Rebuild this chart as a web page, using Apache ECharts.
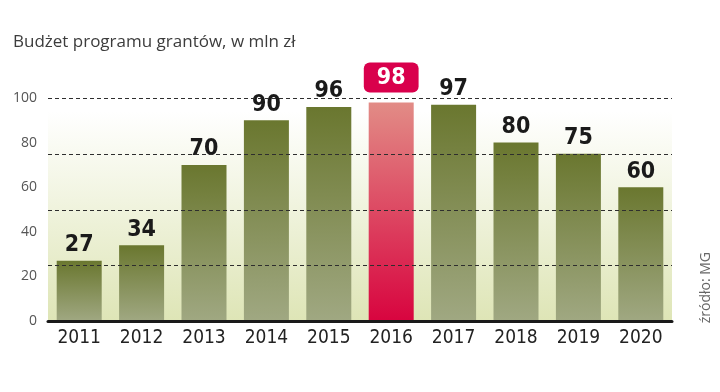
<!DOCTYPE html>
<html><head><meta charset="utf-8">
<script src="https://cdn.jsdelivr.net/npm/echarts@6/dist/echarts.min.js"></script>
<style>html,body{margin:0;padding:0;background:#fff}#c{width:720px;height:392px}</style>
</head><body><div id="c"></div>
<script>
var categories = ['2011','2012','2013','2014','2015','2016','2017','2018','2019','2020'];
var values = [27, 34, 70, 90, 96, 98, 97, 80, 75, 60];
var highlightCategory = '2016';
var yTicks = [0, 20, 40, 60, 80, 100];
var gridLevels = [25, 50, 75, 100];
var titleText = 'Budżet programu grantów, w mln zł';
var sourceText = 'źródło: MG';

var chart = echarts.init(document.getElementById('c'), null, {renderer:'canvas'});
var greenGrad = new echarts.graphic.LinearGradient(0,0,0,1,[{offset:0,color:'#6a772f'},{offset:1,color:'#a0a882'}]);
var redGrad = new echarts.graphic.LinearGradient(0,0,0,1,[{offset:0,color:'#e28c86'},{offset:1,color:'#d8043f'}]);
var numFont = '"DejaVu Sans Condensed",sans-serif';

var barData = values.map(function(v,i){
  if (categories[i] === highlightCategory) {
    return {value:v, itemStyle:{color:redGrad}, label:{
      formatter:'{t|{c}}', distance:10,
      rich:{t:{color:'#fff', backgroundColor:'#d9004c', borderRadius:6, padding:[4,13,3,13], fontSize:23, fontWeight:'bold', fontFamily:numFont}}
    }};
  }
  return {value:v, itemStyle:{color:greenGrad}};
});

chart.setOption({
  animation:false,
  title:{text:titleText, left:8, top:29, textStyle:{fontFamily:'"Open Sans",sans-serif', fontWeight:'normal', fontSize:17, color:'#3c3c3c'}},
  graphic:[{type:'text', right:7, top:252, rotation:Math.PI/2, style:{text:sourceText, fill:'#666', fontSize:14, fontFamily:'"Open Sans",sans-serif'}}],
  grid:{left:48, right:48, top:98, bottom:71},
  xAxis:{type:'category', data:categories, z:20,
    axisLine:{lineStyle:{color:'#1a1a1a', width:3}}, axisTick:{show:false},
    axisLabel:{interval:0, color:'#222', fontSize:19, fontFamily:numFont, margin:8}},
  yAxis:{type:'value', min:0, max:100, interval:20, splitLine:{show:false},
      axisLine:{show:false}, axisTick:{show:false},
      axisLabel:{color:'#555', fontSize:14, fontFamily:'"Open Sans",sans-serif', margin:11}},
  series:[
    {type:'line', data:[], z:1, silent:true,
      markArea:{silent:true, itemStyle:{color:new echarts.graphic.LinearGradient(0,0,0,1,[{offset:0,color:'#ffffff'},{offset:1,color:'#dee5b6'}])},
        data:[[{yAxis:0},{yAxis:94}]]}},
    {type:'bar', data:barData, z:2, barWidth:45,
      label:{show:true, position:'top', distance:4, color:'#1a1a1a', fontSize:23, fontWeight:'bold', fontFamily:numFont}},
    {type:'custom', z:10, silent:true, clip:false, data:gridLevels.map(function(g){return [0,g];}),
      encode:{x:0, y:1},
      renderItem:function(params, api){
        var cs = params.coordSys;
        var y = Math.round(api.coord([0, api.value(1)])[1]) + 0.5;
        return {type:'line', z2:100, shape:{x1:cs.x, y1:y, x2:cs.x+cs.width, y2:y},
          style:{stroke:'#2e2e2e', lineWidth:1.2, lineDash:[4,3]}};
      }}
  ]
});
</script></body></html>
